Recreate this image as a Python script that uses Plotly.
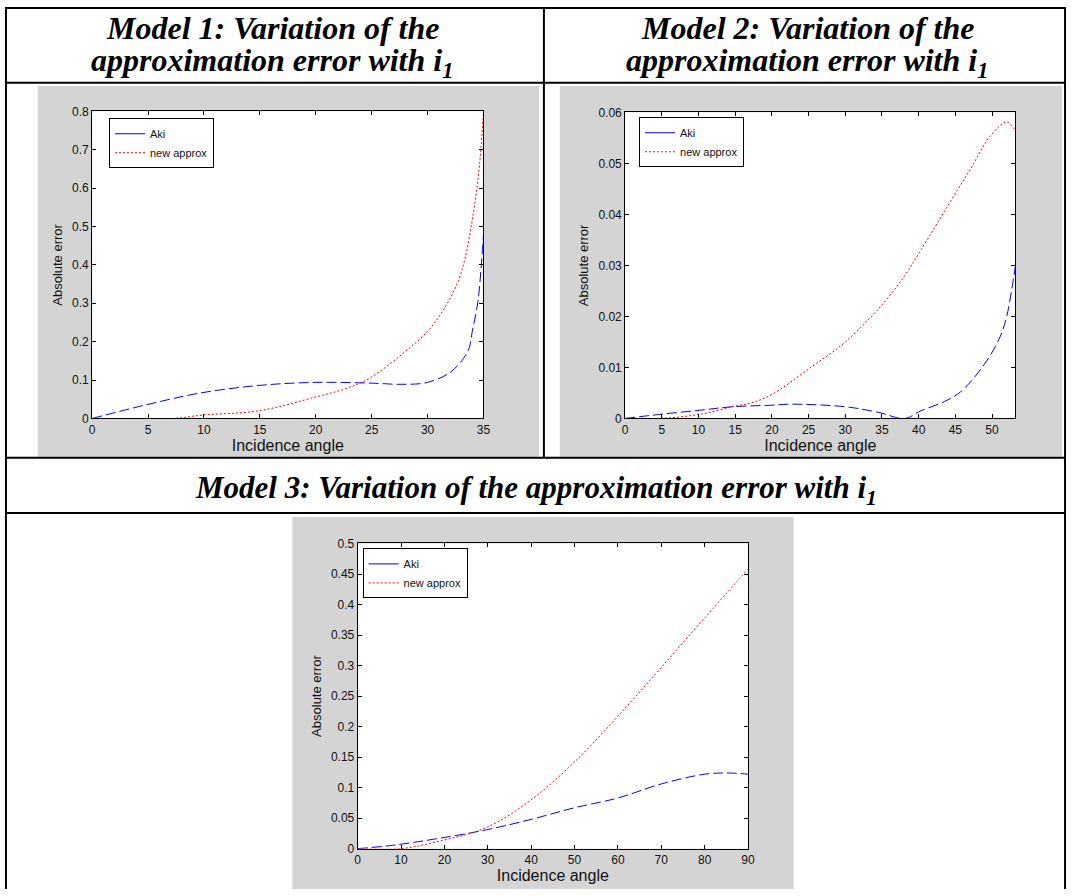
import plotly.graph_objects as go

# ---- Model 1 (incidence angle 0-35 deg) ----
m1_aki_x = [0, 4.9, 9.6, 14.9, 20, 25, 27.7, 30, 32.1, 33.6, 34.0, 34.5, 34.8, 35]
m1_aki_y = [0, 0.036, 0.066, 0.086, 0.094, 0.092, 0.089, 0.094, 0.122, 0.175, 0.227, 0.304, 0.398, 0.479]
m1_new_x = [0, 7.2, 9.9, 14.9, 20, 22.6, 24.7, 27.7, 30, 31.5, 32.7, 33.4, 34.0, 34.5, 34.8, 35]
m1_new_y = [0, 0, 0.009, 0.020, 0.056, 0.077, 0.103, 0.167, 0.227, 0.287, 0.355, 0.423, 0.518, 0.620, 0.714, 0.796]

# ---- Model 2 (incidence angle 0-53.2 deg) ----
m2_aki_x = [0, 4.7, 10.1, 14.6, 20, 22.7, 30, 34.5, 38.1, 40.3, 43.5, 45.7, 48.9, 51.1, 52, 52.7, 53.2]
m2_aki_y = [0, 0.0008, 0.0016, 0.0023, 0.0026, 0.0028, 0.0023, 0.0012, 0, 0.0015, 0.0033, 0.0052, 0.0105, 0.016, 0.020, 0.0254, 0.030]
m2_new_x = [0, 4.7, 10.1, 14.6, 17.3, 20, 25, 30, 34.9, 38.1, 40.3, 43.9, 47.1, 49.8, 52, 53.2]
m2_new_y = [0, 0, 0.0008, 0.0023, 0.0031, 0.0047, 0.0097, 0.015, 0.0221, 0.028, 0.033, 0.0415, 0.049, 0.0554, 0.0581, 0.0563]

# ---- Model 3 (incidence angle 0-90 deg) ----
m3_aki_x = [0, 8, 18, 29.8, 40, 50, 60, 70, 80, 85, 90]
m3_aki_y = [0, 0.0054, 0.016, 0.031, 0.048, 0.067, 0.083, 0.106, 0.122, 0.124, 0.122]
m3_new_x = [0, 10, 18, 29.8, 40, 50, 60, 70, 80, 90]
m3_new_y = [0, 0, 0.011, 0.035, 0.080, 0.142, 0.217, 0.297, 0.378, 0.458]

panel_titles = [
    ("Model 1: Variation of the", "approximation error with i<sub>1</sub>"),
    ("Model 2: Variation of the", "approximation error with i<sub>1</sub>"),
]
panel3_title = "Model 3: Variation of the approximation error with i<sub>1</sub>"
x_label = "Incidence angle"
y_label = "Absolute error"
series_names = ["Aki", "new approx"]

W, H = 1075, 896


def px(x):
    return x / W


def py(y):
    return 1 - y / H


AKI_COLOR = "#0000ff"
NEW_COLOR = "#ff0000"
SANS = "Liberation Sans, Arial, sans-serif"
TICK_FONT = dict(family=SANS, size=12, color="#111")
HEAD_FONT = dict(family="Liberation Serif, Times New Roman, serif", size=32, color="#000",
                 weight="bold", style="italic")

fig = go.Figure()

panels = [
    # (xaxis id, yaxis id, legend id, data, x range, x ticks, y range, y ticks, plot box px)
    ("x", "y", "legend", (m1_aki_x, m1_aki_y, m1_new_x, m1_new_y),
     [0, 35], list(range(0, 36, 5)), [0, 0.8], [i / 10 for i in range(9)], (90, 485, 106, 418)),
    ("x2", "y2", "legend2", (m2_aki_x, m2_aki_y, m2_new_x, m2_new_y),
     [0, 53.2], list(range(0, 51, 5)), [0, 0.06], [i / 100 for i in range(7)], (628, 1022, 107, 418)),
    ("x3", "y3", "legend3", (m3_aki_x, m3_aki_y, m3_new_x, m3_new_y),
     [0, 90], list(range(0, 91, 10)), [0, 0.5], [i / 20 for i in range(11)], (358, 752, 545, 855)),
]
legend_boxes = [(107, 113), (642, 112), (363, 550)]
grey_boxes = [(35, 541, 80, 457), (562, 1069, 80, 457), (292, 798, 518, 896)]

shapes = []
for (gx0, gx1, gy0, gy1) in grey_boxes:
    shapes.append(dict(type="rect", xref="paper", yref="paper", x0=px(gx0), x1=px(gx1),
                       y0=py(gy1), y1=py(gy0), fillcolor="#d4d4d4", line=dict(width=0),
                       layer="below"))

layout_axes = {}
for i, (xa, ya, lg, data, xr, xt, yr, yt, box) in enumerate(panels):
    ax, ay, nx, ny = data
    x0, x1, y0, y1 = box
    # white plotting area
    shapes.append(dict(type="rect", xref=f"{xa} domain", yref=f"{ya} domain", x0=0, x1=1, y0=0, y1=1,
                       fillcolor="#ffffff", line=dict(width=0), layer="below"))
    fig.add_trace(go.Scatter(x=ax, y=ay, mode="lines", xaxis=xa, yaxis=ya, showlegend=False,
                             line=dict(color=AKI_COLOR, width=1, dash="10px,4px"), line_shape="spline",
                             hoverinfo="skip"))
    fig.add_trace(go.Scatter(x=nx, y=ny, mode="lines", xaxis=xa, yaxis=ya, showlegend=False,
                             line=dict(color=NEW_COLOR, width=1, dash="2px,2px"), line_shape="spline",
                             hoverinfo="skip"))
    # legend entries
    fig.add_trace(go.Scatter(x=[None], y=[None], mode="lines", xaxis=xa, yaxis=ya, legend=lg,
                             name=series_names[0], line=dict(color=AKI_COLOR, width=1)))
    fig.add_trace(go.Scatter(x=[None], y=[None], mode="lines", xaxis=xa, yaxis=ya, legend=lg,
                             name=series_names[1], line=dict(color=NEW_COLOR, width=1, dash="2px,2px")))

    suffix = "" if i == 0 else str(i + 1)
    common = dict(showgrid=False, zeroline=False, showline=True, linecolor="#000", linewidth=1,
                  mirror="ticks", ticks="inside", ticklen=4, tickcolor="#000", tickfont=TICK_FONT)
    layout_axes["xaxis" + suffix] = dict(domain=[px(x0), px(x1)], range=xr, tickvals=xt, anchor=ya,
                                         title=dict(text=x_label, font=dict(family=SANS, size=16, color="#111"),
                                                    standoff=3),
                                         **common)
    layout_axes["yaxis" + suffix] = dict(domain=[py(y1), py(y0)], range=yr, tickvals=yt, anchor=xa,
                                         title=dict(text=y_label, font=dict(family=SANS, size=13, color="#111"),
                                                    standoff=6),
                                         **common)
    lx, ly = legend_boxes[i]
    layout_axes[lg] = dict(x=px(lx), y=py(ly), xanchor="left", yanchor="top", bgcolor="#ffffff",
                           bordercolor="#000", borderwidth=1, font=dict(family=SANS, size=11, color="#111"),
                           tracegroupgap=0, itemwidth=30)

# table borders
BL = dict(color="#000", width=2)
for yy in (1, 77, 458, 514):
    shapes.append(dict(type="line", xref="paper", yref="paper", x0=px(3), x1=px(1072),
                       y0=py(yy), y1=py(yy), line=BL))
for xx in (3, 1072):
    shapes.append(dict(type="line", xref="paper", yref="paper", x0=px(xx), x1=px(xx),
                       y0=py(0), y1=py(896), line=BL))
shapes.append(dict(type="line", xref="paper", yref="paper", x0=px(546), x1=px(546),
                   y0=py(0), y1=py(458), line=BL))

annotations = []
for (l1, l2), cx in zip(panel_titles, (272, 812)):
    annotations.append(dict(text=l1, x=px(cx), y=py(42), xref="paper", yref="paper",
                            xanchor="center", yanchor="bottom", showarrow=False, font=HEAD_FONT))
    annotations.append(dict(text=l2, x=px(cx), y=py(79), xref="paper", yref="paper",
                            xanchor="center", yanchor="bottom", showarrow=False, font=HEAD_FONT))
annotations.append(dict(text=panel3_title, x=px(538), y=py(513), xref="paper", yref="paper",
                        xanchor="center", yanchor="bottom", showarrow=False,
                        font=dict(HEAD_FONT, size=31)))

fig.update_layout(width=W, height=H, autosize=False, margin=dict(l=0, r=0, t=0, b=0, pad=0),
                  paper_bgcolor="#ffffff", plot_bgcolor="rgba(0,0,0,0)",
                  shapes=shapes, annotations=annotations, **layout_axes)

fig.write_html("out.html", config=dict(displayModeBar=False))
